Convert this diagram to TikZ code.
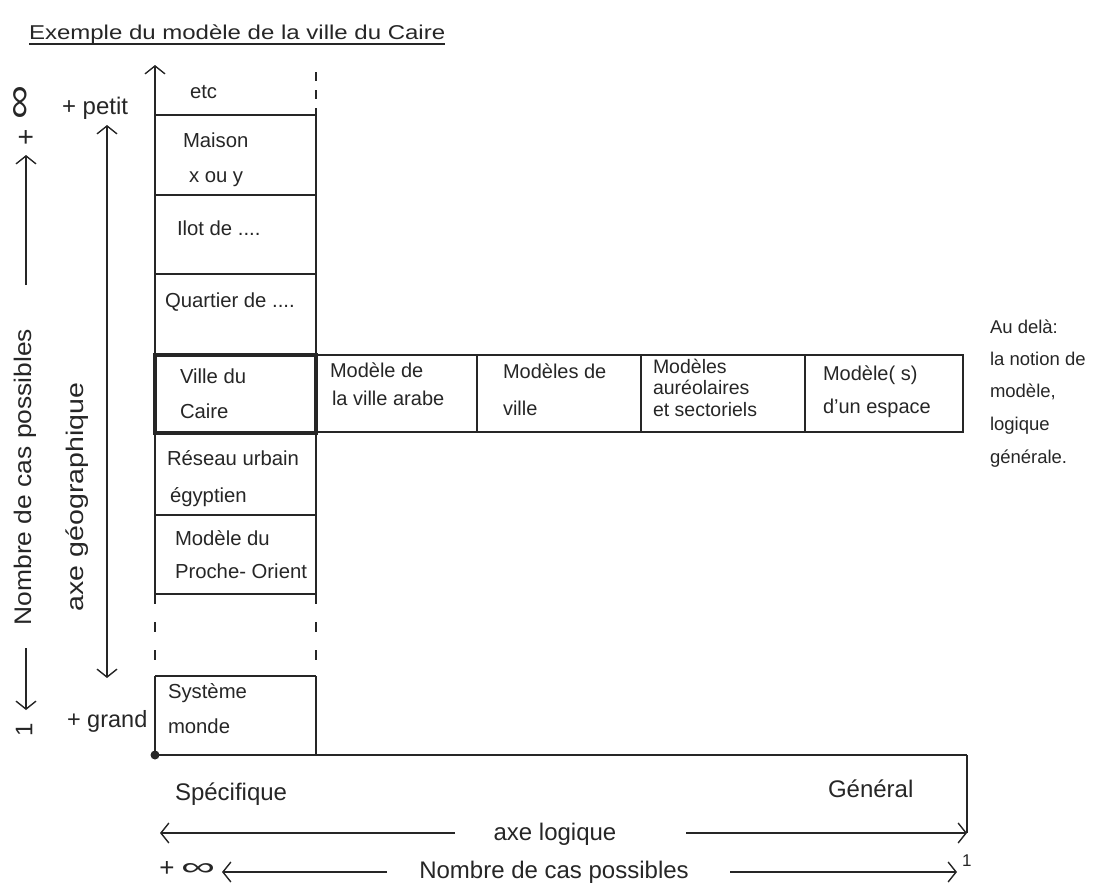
\documentclass[tikz,border=0pt]{standalone}
\usepackage{fontspec}
\setmainfont{Liberation Sans}
\newfontfamily\titlefont[FakeStretch=1.2]{Liberation Sans}
\newfontfamily\nbfont[FakeStretch=1.1]{Liberation Sans}
\newfontfamily\geofont[FakeStretch=1.19]{Liberation Sans}
\usetikzlibrary{arrows.meta}
\definecolor{ink}{HTML}{262626}
\begin{document}
\begin{tikzpicture}[x=1pt,y=-1pt,
  every node/.style={inner sep=0pt, outer sep=0pt, text=ink},
  lbl/.style={anchor=base west, font=\fontsize{20.3}{22}\selectfont},
  rlbl/.style={anchor=base west, font=\fontsize{18.5}{21}\selectfont},
  biglbl/.style={font=\fontsize{24}{28}\selectfont},
  boxline/.style={draw=ink, line width=2pt},
  thickline/.style={draw=ink, line width=4.8pt},
  axisline/.style={draw=ink, line width=1.4pt},
  sparse/.style={dash pattern=on 10pt off 18pt},
  opentip/.tip={Straight Barb[length=8pt,width=20pt,line width=1.4pt]}
]
\useasboundingbox (0,0) rectangle (1093,884);

% title
\node[anchor=base west, font=\titlefont\fontsize{20}{24}\selectfont] (title) at (29,39) {Exemple du modèle de la ville du Caire};
\draw[ink, line width=1.3pt] (title.south west |- 0,44) -- (title.south east |- 0,44);

% column coordinates
\coordinate (cTop) at (155,65);
\coordinate (rTop) at (316,72);
\foreach \n/\y in {a/115,b/195,c/274,d/355,e/433,f/515,g/594,h/676,i/755}{
  \coordinate (L\n) at (155,\y);
  \coordinate (R\n) at (316,\y);
}
% left column side
\draw[boxline, -opentip] (Lg) -- (cTop);
\draw[boxline, sparse] (Lg) -- (Lh);
\draw[boxline] (Lh) -- (Li);
% right column side
\draw[boxline, dash pattern=on 9pt off 9pt] (rTop) -- (Ra);
\draw[boxline] (Ra) -- (Rg);
\draw[boxline, sparse] (Rg) -- (Rh);
\draw[boxline] (Rh) -- (Ri);
% separators
\foreach \n in {a,b,c,f,g,h}{ \draw[boxline] (L\n) -- (R\n); }
% row
\coordinate (rowTR) at (963,355);
\coordinate (rowBR) at (963,432);
\draw[boxline] (Rd) -- (rowTR) -- (rowBR) -- (316,432);
\foreach \x in {477,641,805}{ \draw[boxline] (\x,355) -- (\x,432); }
% thick box
\draw[thickline] (Ld) rectangle (Re);
% base line
\coordinate (baseR) at (967,755);
\coordinate (logR) at (967,833);
\coordinate (logL) at (160,833);
\draw[ink, line width=2.8pt] (Li) -- (baseR);
\draw[boxline] (baseR) -- (logR);
\fill[ink] (Li) circle (4.5pt);

% column labels
\node[lbl] (t1) at (190,98) {etc};
\node[lbl] (t2) at (183,147) {Maison};
\node[lbl] (t3) at (189,182) {x ou y};
\node[lbl] (t4) at (177,235) {Ilot de ....};
\node[lbl] (t5) at (165,307) {Quartier de ....};
\node[lbl] (t6) at (180,383) {Ville du};
\node[lbl] (t7) at (180,418) {Caire};
\node[lbl] (t8) at (167,465) {Réseau urbain};
\node[lbl] (t9) at (170,502) {égyptien};
\node[lbl] (t10) at (175,545) {Modèle du};
\node[lbl] (t11) at (175,578) {Proche- Orient};
\node[lbl] (t12) at (168,698) {Système};
\node[lbl] (t13) at (168,733) {monde};
% row labels
\node[lbl, font=\fontsize{20}{22}\selectfont] (r1) at (330,377) {Modèle de};
\node[lbl, font=\fontsize{20}{22}\selectfont] (r2) at (332,405) {la ville arabe};
\node[lbl, font=\fontsize{20}{22}\selectfont] (r3) at (503,378) {Modèles de};
\node[lbl, font=\fontsize{20}{22}\selectfont] (r4) at (503,415) {ville};
\node[lbl, font=\fontsize{19.5}{20}\selectfont] (r5) at (653,373) {Modèles};
\node[lbl, font=\fontsize{19.5}{20}\selectfont] (r6) at (653,394) {auréolaires};
\node[lbl, font=\fontsize{19.5}{20}\selectfont] (r7) at (653,416) {et sectoriels};
\node[lbl, font=\fontsize{20}{22}\selectfont] (r8) at (823,380) {Modèle( s)};
\node[lbl, font=\fontsize{20}{22}\selectfont] (r9) at (823,413) {d'un espace};
% right text
\node[rlbl] (a1) at (990,333) {Au delà:};
\node[rlbl] (a2) at (990,365) {la notion de};
\node[rlbl] (a3) at (990,397) {modèle,};
\node[rlbl] (a4) at (990,430) {logique};
\node[rlbl] (a5) at (990,463) {générale.};

% left side
\node[anchor=base west, font=\fontsize{24}{28}\selectfont] (petit) at (62,114) {+ petit};
\node[anchor=base west, font=\fontsize{23.5}{28}\selectfont] (grand) at (67,727) {+ grand};
\node[rotate=90, anchor=base, font=\nbfont\fontsize{24}{28}\selectfont] (nbv) at (31,477) {Nombre de cas possibles};
\node[rotate=90, anchor=base, font=\geofont\fontsize{24}{28}\selectfont] (geo) at (83,497) {axe géographique};
\node[rotate=90, font=\fontsize{28}{30}\selectfont] (plusv) at (27,137) {+};
\node[rotate=90] (infv) at (22,102) {\resizebox{34pt}{17pt}{\fontsize{30}{30}\selectfont ∞}};
\node[rotate=90, font=\fontsize{24}{26}\selectfont] (onev) at (24,730) {1};
\coordinate (nbUpTip) at (26,155);
\coordinate (nbUpEnd) at (26,285);
\coordinate (nbDnEnd) at (26,648);
\coordinate (nbDnTip) at (26,710);
\draw[axisline, -opentip] (nbUpEnd) -- (nbUpTip);
\draw[axisline, -opentip] (nbDnEnd) -- (nbDnTip);
\coordinate (geoTop) at (107,125);
\coordinate (geoBot) at (107,678);
\draw[axisline, opentip-opentip] (geoTop) -- (geoBot);

% bottom
\node[anchor=base west, biglbl] (spec) at (175,800) {Spécifique};
\node[anchor=base west, biglbl] (gen) at (828,797) {Général};
\node[anchor=base, biglbl] (axl) at (555,840) {axe logique};
\node[anchor=base, biglbl] (nbh) at (554,878) {Nombre de cas possibles};
\node[anchor=center, font=\fontsize{26}{28}\selectfont] (plush) at (167,869) {+};
\node[anchor=center] (infh) at (198,869) {\resizebox{34pt}{12pt}{\fontsize{30}{30}\selectfont ∞}};
\node[anchor=base west, font=\fontsize{17}{20}\selectfont] (oneh) at (962,866) {1};
\coordinate (axlA) at (455,833);
\coordinate (axlB) at (686,833);
\draw[axisline, -opentip] (axlA) -- (logL);
\draw[axisline, -opentip] (axlB) -- (logR);
\coordinate (nbA) at (387,872);
\coordinate (nbAtip) at (222,872);
\coordinate (nbB) at (730,872);
\coordinate (nbBtip) at (957,872);
\draw[axisline, -opentip] (nbA) -- (nbAtip);
\draw[axisline, -opentip] (nbB) -- (nbBtip);
\end{tikzpicture}
\end{document}
